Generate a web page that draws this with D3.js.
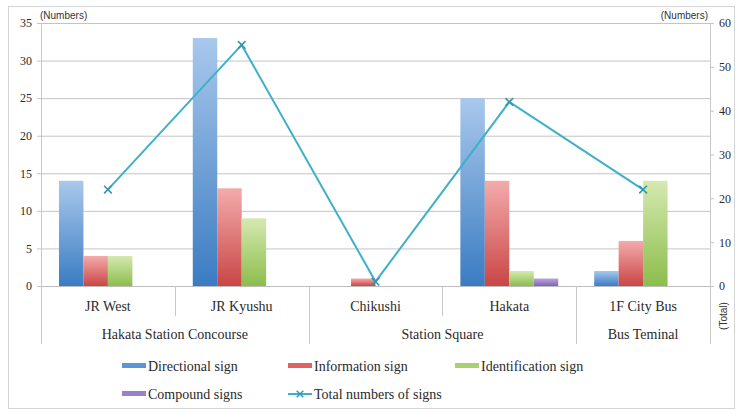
<!DOCTYPE html>
<html>
<head>
<meta charset="utf-8">
<script src="https://cdn.jsdelivr.net/npm/d3@7"></script>
<style>
  html, body { margin: 0; padding: 0; background: #fff; }
  svg { display: block; }
  text.serif { font-family: 'Liberation Serif', 'DejaVu Serif', serif; fill: #2a2a2a; }
  text.sans { font-family: 'Liberation Sans Narrow', 'Liberation Sans', sans-serif; fill: #333; }
</style>
</head>
<body>
<svg id="chart" width="736" height="413"></svg>
<script>
// Sign counts per location
const locations = ["JR West", "JR Kyushu", "Chikushi", "Hakata", "1F City Bus"];
const areas = ["Hakata Station Concourse", "Station Square", "Bus Teminal"];
const areaOf = ["Hakata Station Concourse", "Hakata Station Concourse", "Station Square", "Station Square", "Bus Teminal"];
const seriesNames = ["Directional sign", "Information sign", "Identification sign", "Compound signs"];
const directional = [14, 33, 0, 25, 2];
const information = [4, 13, 1, 14, 6];
const identification = [4, 9, 0, 2, 14];
const compound = [0, 0, 0, 1, 0];
const totals = [22, 55, 1, 42, 22];
const leftTicks = [0, 5, 10, 15, 20, 25, 30, 35];
const rightTicks = [0, 10, 20, 30, 40, 50, 60];

const seriesValues = [directional, information, identification, compound];
const colors = [
  { top: "#a9c8ec", bottom: "#3a7cc2", key: "#5b95d6" },
  { top: "#f4abab", bottom: "#c94646", key: "#e26262" },
  { top: "#d5e9b0", bottom: "#8cbd4c", key: "#a8d272" },
  { top: "#b9a7dc", bottom: "#8063b4", key: "#9a82c8" }
];
const lineColor = "#3eb1c8";

const svg = d3.select("#chart");
const m = { left: 41, right: 710, top: 23, bottom: 286 };

// outer frame
svg.append("rect")
  .attr("x", 8.5).attr("y", 6.5).attr("width", 726).attr("height", 402)
  .attr("fill", "#fff").attr("stroke", "#d4d4d4");

const x0 = d3.scaleBand().domain(locations).range([m.left, m.right]).padding(0);
const x1 = d3.scaleBand().domain(seriesNames).range([0, x0.bandwidth()])
  .paddingInner(0).paddingOuter(0.735);
const yL = d3.scaleLinear().domain([0, 35]).range([m.bottom, m.top]);
const yR = d3.scaleLinear().domain([0, 60]).range([m.bottom, m.top]);

// gradients
const defs = svg.append("defs");
colors.forEach((c, i) => {
  const g = defs.append("linearGradient").attr("id", "g" + i)
    .attr("x1", 0).attr("y1", 0).attr("x2", 0).attr("y2", 1);
  g.append("stop").attr("offset", "0%").attr("stop-color", c.top);
  g.append("stop").attr("offset", "100%").attr("stop-color", c.bottom);
});

// left axis with gridlines
const gL = svg.append("g").attr("transform", `translate(${m.left},0)`)
  .call(d3.axisLeft(yL).tickValues(leftTicks).tickSize(-(m.right - m.left)).tickSizeOuter(0).tickPadding(9));
gL.attr("font-family", null);
gL.select(".domain").attr("stroke", "#c8c8c8");
gL.selectAll(".tick line").attr("stroke", "#c4c4c4").attr("x1", -4);
gL.selectAll(".tick text").attr("class", "serif").style("font-size", "12px").attr("fill", "#333");

// right axis
const gR = svg.append("g").attr("transform", `translate(${m.right},0)`)
  .call(d3.axisRight(yR).tickValues(rightTicks).tickSize(4).tickSizeOuter(0).tickPadding(5));
gR.attr("font-family", null);
gR.select(".domain").attr("stroke", "#c8c8c8");
gR.selectAll(".tick line").attr("stroke", "#c4c4c4");
gR.selectAll(".tick text").attr("class", "serif").style("font-size", "12px").attr("fill", "#333");

// axis unit labels
svg.append("text").attr("class", "sans").attr("x", 40).attr("y", 19).style("font-size", "10px").text("(Numbers)");
svg.append("text").attr("class", "sans").attr("x", 708).attr("y", 19).attr("text-anchor", "end")
  .style("font-size", "10px").text("(Numbers)");
svg.append("text").attr("class", "sans").attr("transform", "translate(727,316) rotate(-90)")
  .attr("text-anchor", "middle").style("font-size", "10px").text("(Total)");

// bars
const bars = svg.append("g");
seriesValues.forEach((vals, si) => {
  bars.selectAll(null).data(locations).join("rect")
    .attr("x", d => x0(d) + x1(seriesNames[si]))
    .attr("width", x1.bandwidth())
    .attr("y", (d, i) => yL(vals[i]))
    .attr("height", (d, i) => m.bottom - yL(vals[i]))
    .attr("fill", `url(#g${si})`);
});

// baseline
svg.append("line").attr("x1", m.left).attr("x2", m.right).attr("y1", m.bottom + 0.5).attr("y2", m.bottom + 0.5)
  .attr("stroke", "#bdbdbd");

// category separators and labels
const sepG = svg.append("g").attr("stroke", "#c8c8c8");
locations.forEach((loc, i) => {
  const xs = Math.round(x0(loc)) + 0.5;
  const groupEdge = i === 0 || areaOf[i] !== areaOf[i - 1];
  sepG.append("line").attr("x1", xs).attr("x2", xs).attr("y1", m.bottom).attr("y2", groupEdge ? 344 : 316);
});
sepG.append("line").attr("x1", m.right + 0.5).attr("x2", m.right + 0.5).attr("y1", m.bottom).attr("y2", 344);

svg.append("g").selectAll("text").data(locations).join("text")
  .attr("class", "serif")
  .attr("x", d => x0(d) + x0.bandwidth() / 2).attr("y", 311)
  .attr("text-anchor", "middle").style("font-size", "14px").text(d => d);

areas.forEach(a => {
  const idx = locations.filter((l, i) => areaOf[i] === a);
  const xa = x0(idx[0]);
  const xb = x0(idx[idx.length - 1]) + x0.bandwidth();
  svg.append("text").attr("class", "serif").attr("x", (xa + xb) / 2).attr("y", 339).attr("text-anchor", "middle")
    .style("font-size", "14px").text(a);
});

// total line
const cx = d => x0(d) + x0.bandwidth() / 2;
const line = d3.line().x((d, i) => cx(locations[i])).y(d => yR(d));
svg.append("path").datum(totals).attr("d", line)
  .attr("fill", "none").attr("stroke", lineColor).attr("stroke-width", 2);
const sym = d3.symbol().type(d3.symbolX).size(40);
svg.append("g").selectAll("path").data(totals).join("path")
  .attr("transform", (d, i) => `translate(${cx(locations[i])},${yR(d)})`)
  .attr("d", sym).attr("fill", "none").attr("stroke", "#2f97ad").attr("stroke-width", 1.6);

// legend
const legendItems = [
  { name: seriesNames[0], kind: "bar", c: colors[0].key, x: 122, y: 366 },
  { name: seriesNames[1], kind: "bar", c: colors[1].key, x: 288, y: 366 },
  { name: seriesNames[2], kind: "bar", c: colors[2].key, x: 455, y: 366 },
  { name: seriesNames[3], kind: "bar", c: colors[3].key, x: 122, y: 394 },
  { name: "Total numbers of signs", kind: "line", c: lineColor, x: 288, y: 394 }
];
const lg = svg.append("g");
legendItems.forEach(it => {
  if (it.kind === "bar") {
    lg.append("rect").attr("x", it.x).attr("y", it.y - 3).attr("width", 24).attr("height", 5).attr("fill", it.c);
  } else {
    lg.append("line").attr("x1", it.x).attr("x2", it.x + 24).attr("y1", it.y).attr("y2", it.y)
      .attr("stroke", it.c).attr("stroke-width", 2);
    lg.append("path").attr("transform", `translate(${it.x + 12},${it.y})`).attr("d", d3.symbol().type(d3.symbolX).size(30))
      .attr("fill", "none").attr("stroke", "#2f97ad").attr("stroke-width", 1.4);
  }
  lg.append("text").attr("class", "serif").attr("x", it.x + 26).attr("y", it.y + 4.5).style("font-size", "14px").text(it.name);
});
</script>
</body>
</html>
